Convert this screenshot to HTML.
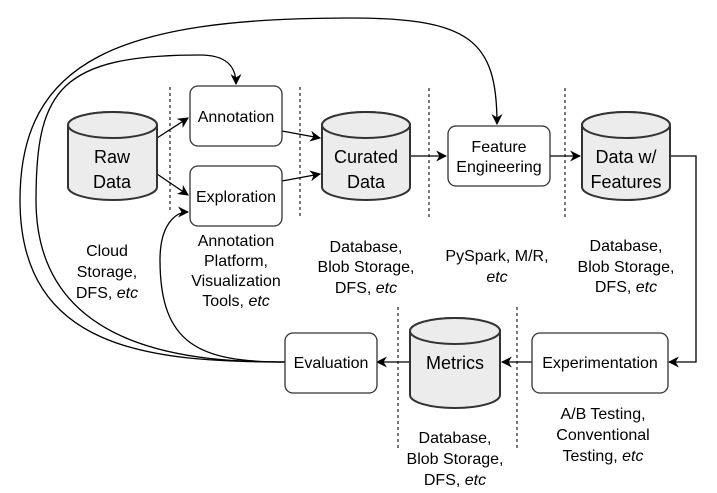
<!DOCTYPE html>
<html><head><meta charset="utf-8"><style>
html,body{margin:0;padding:0;background:#fff;}
svg{display:block;font-family:"Liberation Sans",Arial,sans-serif;}
</style></head><body>
<svg width="717" height="493" viewBox="0 0 717 493" xmlns="http://www.w3.org/2000/svg">
<defs>
<marker id="a" viewBox="0 0 10 10" refX="9" refY="5" markerWidth="11" markerHeight="11" orient="auto" markerUnits="userSpaceOnUse">
<path d="M0,0 L10,5 L0,10 L3,5 z" fill="#000"/></marker>
</defs>
<g stroke="#333" stroke-width="1.3" stroke-dasharray="3,3">
<line x1="170" y1="87" x2="170" y2="212"/>
<line x1="300" y1="87" x2="300" y2="218"/>
<line x1="429" y1="88" x2="429" y2="218"/>
<line x1="565" y1="88" x2="565" y2="218"/>
<line x1="398" y1="307" x2="398" y2="450"/>
<line x1="517" y1="307" x2="517" y2="450"/>
</g>
<g fill="none" stroke="#000" stroke-width="1.3">
<path d="M285,362 C150,362 20,350 20,200 C20,60 120,18 350,18 C470,18 497,40 497,124" marker-end="url(#a)"/>
<path d="M285,362 C200,362 36,355 36,200 C36,90 60,55 200,55 C225,55 236,65 236,84" marker-end="url(#a)"/>
<path d="M285,362 C200,362 160,345 160,260 C160,225 175,212 188,212" marker-end="url(#a)"/>
<line x1="157" y1="138" x2="188" y2="118" marker-end="url(#a)"/>
<line x1="157" y1="174" x2="188" y2="195" marker-end="url(#a)"/>
<line x1="282" y1="131" x2="320" y2="138" marker-end="url(#a)"/>
<line x1="282" y1="181" x2="320" y2="174" marker-end="url(#a)"/>
<line x1="410" y1="156" x2="446" y2="156" marker-end="url(#a)"/>
<line x1="550" y1="156" x2="580" y2="156" marker-end="url(#a)"/>
<path d="M670,156 H696 V362 H669" marker-end="url(#a)"/>
<line x1="532" y1="362" x2="502" y2="362" marker-end="url(#a)"/>
<line x1="410" y1="362" x2="377" y2="362" marker-end="url(#a)"/>
</g>
<g stroke="#333" stroke-width="2" fill="#ececec">
<path d="M68,125 V187 A44.5,13 0 0 0 157,187 V125 A44.5,13 0 0 0 68,125 z"/>
<ellipse cx="112.5" cy="125" rx="44.5" ry="13"/>
<path d="M322,125 V187 A44,13 0 0 0 410,187 V125 A44,13 0 0 0 322,125 z"/>
<ellipse cx="366" cy="125" rx="44" ry="13"/>
<path d="M582,125 V187 A44,13 0 0 0 670,187 V125 A44,13 0 0 0 582,125 z"/>
<ellipse cx="626" cy="125" rx="44" ry="13"/>
<path d="M410,331 V395 A45,13 0 0 0 500,395 V331 A45,13 0 0 0 410,331 z"/>
<ellipse cx="455" cy="331" rx="45" ry="13"/>
</g>
<g stroke="#333" stroke-width="1.3" fill="#fff">
<rect x="190" y="86" width="92" height="60" rx="8"/>
<rect x="190" y="166" width="92" height="60" rx="8"/>
<rect x="448" y="126" width="102" height="60" rx="8"/>
<rect x="532" y="333" width="136" height="60" rx="8"/>
<rect x="285" y="333" width="92" height="60" rx="8"/>
</g>
<g font-size="18" text-anchor="middle" fill="#000">
<text x="112" y="163">Raw</text><text x="112" y="188">Data</text>
<text x="366" y="163">Curated</text><text x="366" y="188">Data</text>
<text x="626" y="163">Data w/</text><text x="626" y="188">Features</text>
<text x="455" y="369">Metrics</text>
</g>
<g font-size="16" text-anchor="middle" fill="#000">
<text x="236" y="122">Annotation</text>
<text x="236" y="202">Exploration</text>
<text x="499" y="152">Feature</text><text x="499" y="172">Engineering</text>
<text x="600" y="368">Experimentation</text>
<text x="331" y="368">Evaluation</text>
<text x="107" y="256">Cloud</text><text x="107" y="277">Storage,</text><text x="107" y="298">DFS, <tspan font-style="italic">etc</tspan></text>
<text x="236" y="246">Annotation</text><text x="236" y="266">Platform,</text><text x="236" y="286">Visualization</text><text x="236" y="306">Tools, <tspan font-style="italic">etc</tspan></text>
<text x="366" y="252">Database,</text><text x="366" y="272">Blob Storage,</text><text x="366" y="293">DFS, <tspan font-style="italic">etc</tspan></text>
<text x="497" y="261">PySpark, M/R,</text><text x="497" y="282" font-style="italic">etc</text>
<text x="626" y="251">Database,</text><text x="626" y="272">Blob Storage,</text><text x="626" y="292">DFS, <tspan font-style="italic">etc</tspan></text>
<text x="603" y="419">A/B Testing,</text><text x="603" y="440">Conventional</text><text x="603" y="461">Testing, <tspan font-style="italic">etc</tspan></text>
<text x="455" y="443">Database,</text><text x="455" y="464">Blob Storage,</text><text x="455" y="485">DFS, <tspan font-style="italic">etc</tspan></text>
</g>
</svg>
</body></html>
